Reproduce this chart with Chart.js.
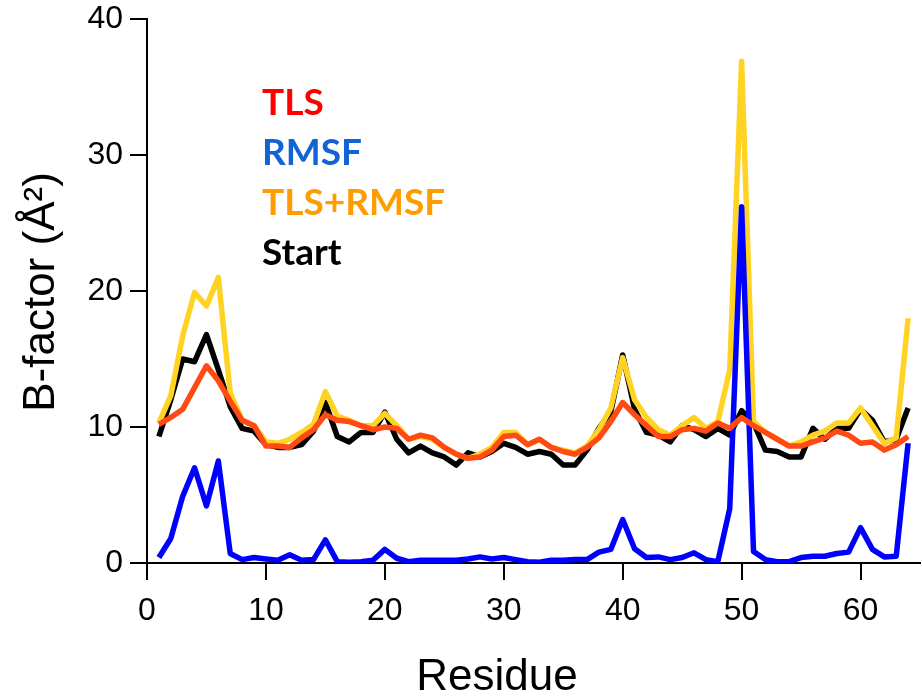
<!DOCTYPE html>
<html>
<head>
<meta charset="utf-8">
<script src="https://cdn.jsdelivr.net/npm/chart.js@4.4.1/dist/chart.umd.min.js"></script>
<style>
  html, body { margin: 0; padding: 0; background: #fff; }
  #wrap { width: 922px; height: 697px; position: relative; }
</style>
</head>
<body>
<div id="wrap"><canvas id="c"></canvas></div>
<script>
// Residue numbers along the chain
const residues = [1,2,3,4,5,6,7,8,9,10,11,12,13,14,15,16,17,18,19,20,21,22,23,24,25,26,27,28,29,30,31,32,
                  33,34,35,36,37,38,39,40,41,42,43,44,45,46,47,48,49,50,51,52,53,54,55,56,57,58,59,60,61,62,63,64];

// B-factors (Å²) per residue for each refinement model
const tls = [10.2,10.7,11.3,12.9,14.5,13.4,11.9,10.5,10.1,8.6,8.6,8.5,9.2,9.8,10.9,10.5,10.4,10.1,9.8,10.0,9.9,9.1,9.4,9.2,
             8.5,8.0,7.7,7.8,8.3,9.3,9.4,8.7,9.1,8.5,8.2,8.0,8.5,9.2,10.4,11.8,10.9,10.1,9.3,9.3,9.8,9.9,9.7,10.3,
             9.9,10.7,10.1,9.6,9.1,8.6,8.6,8.9,9.2,9.7,9.4,8.8,8.9,8.3,8.7,9.3];
const rmsf = [0.4,1.8,4.9,7.0,4.2,7.5,0.7,0.25,0.4,0.3,0.2,0.6,0.2,0.25,1.7,0.1,0.05,0.1,0.2,1.0,0.35,0.1,0.2,0.2,
              0.2,0.2,0.3,0.45,0.3,0.4,0.25,0.1,0.05,0.2,0.2,0.25,0.25,0.8,1.0,3.2,1.05,0.4,0.45,0.25,0.4,0.75,0.25,0.1,
              4.0,26.2,0.85,0.25,0.1,0.1,0.4,0.5,0.5,0.7,0.8,2.6,1.0,0.45,0.5,8.8];
const tlsRmsf = [10.3,12.3,16.7,19.9,18.9,21.0,12.5,10.5,10.1,8.9,8.8,9.1,9.6,10.2,12.6,10.8,10.5,10.1,10.1,11.0,10.1,9.1,9.3,9.1,
                 8.5,8.0,7.7,8.0,8.5,9.6,9.6,8.7,9.1,8.5,8.3,8.1,8.6,9.8,11.4,15.1,12.0,10.7,9.8,9.4,10.1,10.7,9.9,10.4,
                 14.2,36.9,10.4,9.6,9.1,8.6,8.9,9.4,9.7,10.3,10.3,11.4,10.1,8.8,9.2,18.0];
const start = [9.3,12.0,15.0,14.8,16.8,14.2,11.5,9.9,9.7,8.7,8.5,8.5,8.7,9.7,11.8,9.3,8.9,9.6,9.6,11.1,9.1,8.1,8.6,8.1,
               7.8,7.2,8.1,7.8,8.2,8.8,8.5,8.0,8.2,8.0,7.2,7.2,8.3,9.9,11.1,15.3,11.3,9.6,9.4,8.9,10.1,9.8,9.3,9.9,
               9.4,11.2,10.3,8.3,8.2,7.8,7.8,9.9,9.1,9.9,9.9,11.3,10.5,8.9,9.1,11.4];

const seriesNames  = ['TLS', 'RMSF', 'TLS+RMSF', 'Start'];
const seriesValues = [tls, rmsf, tlsRmsf, start];
const lineColors   = ['#FF4A14', '#0000FF', '#FFD324', '#000000'];
const legendColors = ['#FF0000', '#1463D4', '#FF9C00', '#000000'];

const xTicks = [0, 10, 20, 30, 40, 50, 60];
const yTicks = [0, 10, 20, 30, 40];

const axisFont = '"Liberation Sans", Arial, sans-serif';

// Text legend in the upper-left of the plot plus both axis titles
const annotations = {
  id: 'annotations',
  afterDraw(chart) {
    const ctx = chart.ctx;
    ctx.save();
    ctx.font = 'bold 37px Lato, "Open Sans", sans-serif';
    ctx.textAlign = 'left';
    ctx.textBaseline = 'alphabetic';
    seriesNames.forEach((name, i) => {
      ctx.fillStyle = legendColors[i];
      ctx.fillText(name, 262, 115 + i * 50);
    });

    ctx.fillStyle = '#000';
    ctx.font = '44px ' + axisFont;
    ctx.textAlign = 'center';
    ctx.fillText('Residue', 497, 690);

    ctx.translate(54, 292);
    ctx.rotate(-Math.PI / 2);
    ctx.fillText('B-factor (Å²)', 0, 0);
    ctx.restore();
  }
};

const datasets = seriesNames.map((name, i) => ({
  label: name,
  data: residues.map((r, j) => ({ x: r, y: seriesValues[i][j] })),
  borderColor: lineColors[i],
  backgroundColor: lineColors[i],
  borderWidth: 5.5,
  pointRadius: 0,
  tension: 0,
  fill: false,
  borderJoinStyle: 'round',
  borderCapStyle: 'butt'
}));

new Chart(document.getElementById('c'), {
  type: 'line',
  data: { datasets },
  options: {
    responsive: true,
    maintainAspectRatio: false,
    animation: false,
    layout: { padding: { top: 19, right: 2, left: 0, bottom: 0 } },
    plugins: { legend: { display: false }, tooltip: { enabled: false } },
    scales: {
      x: {
        type: 'linear',
        min: 0,
        max: 65,
        afterBuildTicks: s => { s.ticks = xTicks.map(v => ({ value: v })); },
        afterFit: s => { s.height = 134; s.paddingLeft = 0; s.paddingRight = 0; },
        ticks: { color: '#000', font: { family: axisFont, size: 32 }, padding: 12, maxRotation: 0, autoSkip: false },
        grid: { drawOnChartArea: false, drawTicks: true, tickLength: 17, color: '#000', lineWidth: 2 },
        border: { display: true, color: '#000', width: 2 }
      },
      y: {
        min: 0,
        max: 40,
        afterBuildTicks: s => { s.ticks = yTicks.map(v => ({ value: v })); },
        afterFit: s => { s.width = 147; s.paddingTop = 0; s.paddingBottom = 0; },
        ticks: { color: '#000', font: { family: axisFont, size: 32 }, padding: 7 },
        grid: { drawOnChartArea: false, drawTicks: true, tickLength: 17, color: '#000', lineWidth: 2 },
        border: { display: true, color: '#000', width: 2 }
      }
    }
  },
  plugins: [annotations]
});
</script>
</body>
</html>
